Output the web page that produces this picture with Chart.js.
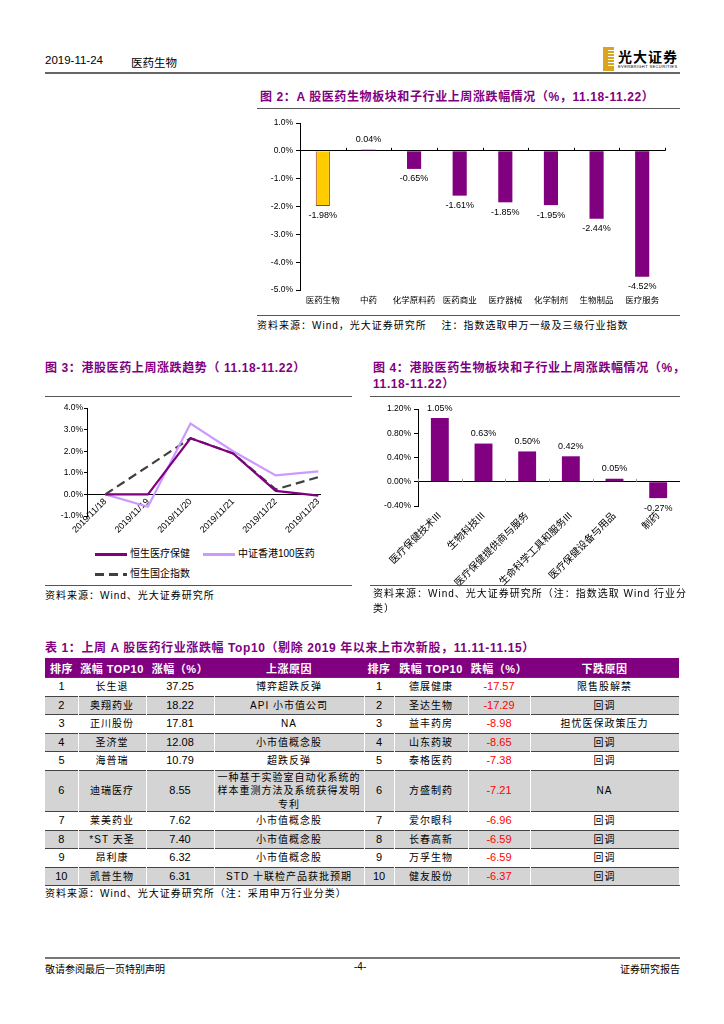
<!DOCTYPE html>
<html lang="zh-CN">
<head>
<meta charset="utf-8">
<title>医药生物</title>
<script src="https://cdn.jsdelivr.net/npm/chart.js@4.4.1/dist/chart.umd.min.js"></script>
<style>
  body { margin:0; width:724px; height:1024px; position:relative; overflow:hidden; background:#fff;
    font-family:"Liberation Sans","Noto Sans CJK SC",sans-serif; color:#000; }
  .abs { position:absolute; white-space:nowrap; }
  .rule { position:absolute; height:1px; background:#555; }
  .title { position:absolute; font-size:12px; font-weight:bold; color:#800080; white-space:nowrap; letter-spacing:0.6px; line-height:16px; }
  .src { position:absolute; font-size:10px; white-space:nowrap; letter-spacing:1px; line-height:15px; }
  canvas { position:absolute; }
  .lg-line { position:absolute; width:32px; height:3px; }
  .lg-text { position:absolute; font-size:10px; line-height:12px; white-space:nowrap; }

  #top10 { position:absolute; left:45px; top:658px; width:634px; border-collapse:collapse; table-layout:fixed; font-size:10px; }
  #top10 th { background:#800080; color:#fff; font-weight:bold; font-size:11px; height:19px; padding:0; text-align:center; letter-spacing:0.5px; }
  #top10 td { height:17.5px; padding:0; text-align:center; border-top:1px solid #444; line-height:13.5px; }
  #top10 tr.alt td { background:#d4d4d4; border-right:1px solid #fff; }
  #top10 tr:last-child td { border-bottom:1px solid #444; }
  #top10 td.num { font-size:11px; }
  #top10 td.cn { letter-spacing:1px; }
  #top10 td.neg { color:#ff0000; }
</style>
</head>
<body>

<!-- page header -->
<div class="abs" style="left:45px;top:54px;font-size:11.5px;">2019-11-24</div>
<div class="abs" style="left:131px;top:54px;font-size:11.5px;">医药生物</div>
<div class="abs" style="left:603px;top:47px;width:11px;height:24px;background:#d9a520;"></div>
<div class="abs" style="left:608px;top:50px;width:6px;height:18px;background:repeating-linear-gradient(#fff 0 1px,#d9a520 1px 3px);"></div>
<div class="abs" style="left:618px;top:46px;font-size:14px;font-weight:bold;letter-spacing:1px;">光大证券</div>
<div class="abs" style="left:618px;top:64px;font-size:4px;letter-spacing:0.4px;">EVERBRIGHT SECURITIES</div>
<div class="rule" style="left:45px;top:72px;width:635px;height:1.5px;background:#666;"></div>

<!-- figure 2 -->
<div class="title" style="left:260px;top:89px;">图 2：A 股医药生物板块和子行业上周涨跌幅情况（%，11.18-11.22）</div>
<div class="rule" style="left:257px;top:108px;width:423px;"></div>
<canvas id="chartA" width="415" height="197" style="left:255px;top:113px;"></canvas>
<div class="rule" style="left:257px;top:315px;width:423px;"></div>
<div class="src" style="left:257px;top:318px;">资料来源：Wind，光大证券研究所　 注：指数选取申万一级及三级行业指数</div>

<!-- figure 3 -->
<div class="title" style="left:45px;top:360px;">图 3：港股医药上周涨跌趋势（ 11.18-11.22）</div>
<div class="rule" style="left:45px;top:396px;width:307px;"></div>
<canvas id="chartB" width="290" height="148" style="left:40px;top:398px;"></canvas>
<div id="legendB"></div>
<div class="rule" style="left:45px;top:585px;width:307px;"></div>
<div class="src" style="left:45px;top:588px;">资料来源：Wind、光大证券研究所</div>

<!-- figure 4 -->
<div class="title" style="left:373px;top:360px;">图 4：港股医药生物板块和子行业上周涨跌幅情况（%，<br>11.18-11.22）</div>
<div class="rule" style="left:370px;top:396px;width:310px;"></div>
<canvas id="chartC" width="308" height="192" style="left:372px;top:400px;"></canvas>
<div class="rule" style="left:370px;top:585px;width:310px;"></div>
<div class="src" style="left:373px;top:586px;">资料来源：Wind、光大证券研究所（注：指数选取 Wind 行业分<br>类）</div>

<!-- table 1 -->
<div class="title" style="left:45px;top:640px;">表 1：上周 A 股医药行业涨跌幅 Top10（剔除 2019 年以来上市次新股，11.11-11.15）</div>
<table id="top10">
  <colgroup>
    <col style="width:33px"><col style="width:68px"><col style="width:68px"><col style="width:150px">
    <col style="width:30px"><col style="width:74px"><col style="width:62px"><col style="width:149px">
  </colgroup>
  <thead><tr><th>排序</th><th>涨幅 TOP10</th><th>涨幅（%）</th><th>上涨原因</th><th>排序</th><th>跌幅 TOP10</th><th>跌幅（%）</th><th>下跌原因</th></tr></thead>
  <tbody id="top10-body"></tbody>
</table>
<div class="src" style="left:45px;top:886px;">资料来源：Wind、光大证券研究所（注：采用申万行业分类）</div>

<!-- footer -->
<div class="rule" style="left:45px;top:957px;width:635px;height:1.5px;background:#777;"></div>
<div class="abs" style="left:45px;top:961px;font-size:10px;">敬请参阅最后一页特别声明</div>
<div class="abs" style="left:354px;top:961px;font-size:10px;">-4-</div>
<div class="abs" style="right:44px;top:961px;font-size:10px;">证券研究报告</div>

<script>
// Figure 2: A-share sub-sectors, weekly change (%)
const aSectors = ["医药生物", "中药", "化学原料药", "医药商业", "医疗器械", "化学制剂", "生物制品", "医疗服务"];
const aChanges = [-1.98, 0.04, -0.65, -1.61, -1.85, -1.95, -2.44, -4.52];

// Figure 3: HK indices, daily trend (%)
const hkDates = ["2019/11/18", "2019/11/19", "2019/11/20", "2019/11/21", "2019/11/22", "2019/11/23"];
const hsHealthcare = [0, 0, 2.6, 1.9, 0.16, -0.06];
const csiHk100Pharma = [0, -0.57, 3.28, 2.0, 0.88, 1.07];
const hsChinaEnterprises = [0, 1.3, 2.6, 1.9, 0.23, 0.8];

// Figure 4: HK sub-sectors, weekly change (%)
const hkSectors = ["医疗保健技术III", "生物科技III", "医疗保健提供商与服务", "生命科学工具和服务III", "医疗保健设备与用品", "制药"];
const hkChanges = [1.05, 0.63, 0.5, 0.42, 0.05, -0.27];

// Table 1: top 10 gainers / losers
const gainNames = ["长生退", "奥翔药业", "正川股份", "圣济堂", "海普瑞", "迪瑞医疗", "莱美药业", "*ST 天圣", "昂利康", "凯普生物"];
const gainPct = ["37.25", "18.22", "17.81", "12.08", "10.79", "8.55", "7.62", "7.40", "6.32", "6.31"];
const gainReasons = ["博弈超跌反弹", "API 小市值公司", "NA", "小市值概念股", "超跌反弹",
  "一种基于实验室自动化系统的样本重测方法及系统获得发明专利", "小市值概念股", "小市值概念股", "小市值概念股", "STD 十联检产品获批预期"];
const loseNames = ["德展健康", "圣达生物", "益丰药房", "山东药玻", "泰格医药", "方盛制药", "爱尔眼科", "长春高新", "万孚生物", "健友股份"];
const losePct = ["-17.57", "-17.29", "-8.98", "-8.65", "-7.38", "-7.21", "-6.96", "-6.59", "-6.59", "-6.37"];
const loseReasons = ["限售股解禁", "回调", "担忧医保政策压力", "回调", "回调", "NA", "回调", "回调", "回调", "回调"];

const PURPLE = "#800080";
const fontFamily = "'Liberation Sans', 'Noto Sans CJK SC', sans-serif";
Chart.defaults.font.family = fontFamily;
Chart.defaults.color = "#000";

// value labels above / below each bar
const valueLabels = {
  id: "valueLabels",
  afterDatasetsDraw(chart, args, opts) {
    const ctx = chart.ctx;
    const data = chart.data.datasets[0].data;
    ctx.save();
    ctx.font = `${opts.size}px ${fontFamily}`;
    ctx.fillStyle = "#000";
    ctx.textAlign = "center";
    ctx.textBaseline = "middle";
    chart.getDatasetMeta(0).data.forEach((bar, i) => {
      const v = data[i];
      const y = v >= 0 ? bar.y - opts.offset : bar.y + opts.offset;
      ctx.fillText(v.toFixed(2) + "%", bar.x, y);
    });
    ctx.restore();
  },
};

// small marks on the zero line between categories
const zeroTicks = {
  id: "zeroTicks",
  afterDatasetsDraw(chart, args, opts) {
    const ctx = chart.ctx;
    const xs = chart.scales.x;
    const y0 = chart.scales.y.getPixelForValue(0);
    ctx.save();
    ctx.strokeStyle = opts.color;
    ctx.lineWidth = 1;
    for (let i = 0; i <= xs.getLabels().length; i++) {
      const px = Math.round(xs.getPixelForValue(i - 0.5)) + 0.5;
      ctx.beginPath();
      ctx.moveTo(px, y0);
      ctx.lineTo(px, y0 - 3);
      ctx.stroke();
    }
    ctx.restore();
  },
};

const isZero = (v) => Math.abs(v) < 1e-9;

// Figure 2
new Chart(document.getElementById("chartA"), {
  type: "bar",
  data: {
    labels: aSectors,
    datasets: [{
      data: aChanges,
      backgroundColor: aSectors.map((s) => (s === "医药生物" ? "#FFCC00" : PURPLE)),
      borderColor: aSectors.map((s) => (s === "医药生物" ? "#9b3050" : PURPLE)),
      borderWidth: aSectors.map((s) => (s === "医药生物" ? 1 : 0)),
      barPercentage: 0.31,
      categoryPercentage: 1,
    }],
  },
  plugins: [valueLabels, zeroTicks],
  options: {
    responsive: false,
    animation: false,
    layout: { padding: { top: 10, right: 5, left: 0, bottom: 0 } },
    plugins: {
      legend: { display: false },
      tooltip: { enabled: false },
      valueLabels: { size: 9, offset: 10 },
      zeroTicks: { color: "#000" },
    },
    scales: {
      x: {
        grid: { display: false, drawTicks: false },
        border: { display: false },
        ticks: { font: { size: 8.5 }, padding: 6, maxRotation: 0, autoSkip: false },
        afterFit: (s) => { s.height = 20; },
      },
      y: {
        min: -5,
        max: 1,
        ticks: { stepSize: 1, font: { size: 8.5 }, padding: 3, callback: (v) => v.toFixed(1) + "%" },
        grid: { color: (c) => (isZero(c.tick.value) ? "#000" : "transparent"), tickColor: "#000", tickLength: 4 },
        border: { display: true, color: "#000" },
        afterFit: (s) => { s.width = 45; },
      },
    },
  },
});

// Figure 3
const lineSeries = [
  { name: "恒生医疗保健", values: hsHealthcare, color: PURPLE, dash: [] },
  { name: "中证香港100医药", values: csiHk100Pharma, color: "#CC99FF", dash: [] },
  { name: "恒生国企指数", values: hsChinaEnterprises, color: "#404040", dash: [9, 5] },
];

new Chart(document.getElementById("chartB"), {
  type: "line",
  data: {
    datasets: lineSeries.map((s) => ({
      label: s.name,
      data: s.values.map((v, i) => ({ x: i, y: v })),
      borderColor: s.color,
      borderDash: s.dash,
      borderWidth: 2.2,
      pointRadius: 0,
      tension: 0,
    })),
  },
  options: {
    responsive: false,
    animation: false,
    layout: { padding: { top: 10, right: 10, left: 0, bottom: 30 } },
    plugins: { legend: { display: false }, tooltip: { enabled: false } },
    scales: {
      x: {
        type: "linear",
        position: { y: 0 },
        min: -0.43,
        max: 5.04,
        afterBuildTicks: (s) => { s.ticks = hkDates.map((d, i) => ({ value: i })); },
        ticks: { font: { size: 9 }, minRotation: 45, maxRotation: 45, padding: 2, autoSkip: false,
          callback: (v) => hkDates[v] },
        grid: { display: false, drawTicks: false },
        border: { display: true, color: "#000" },
        afterFit: (s) => { s.height = 0; },
      },
      y: {
        min: -1,
        max: 4,
        ticks: { stepSize: 0.5, font: { size: 8.5 }, padding: 1, callback: (v) => v.toFixed(1) + "%" },
        grid: { color: "transparent", tickColor: "#000", tickLength: 3 },
        border: { display: true, color: "#000" },
        afterFit: (s) => { s.width = 47; },
      },
    },
  },
});

// legend for figure 3, built from the series list
const legendSlots = [[95, 554], [203, 554], [95, 574]];
document.getElementById("legendB").innerHTML = lineSeries.map((s, i) => {
  const [lx, ly] = legendSlots[i];
  const bg = s.dash.length
    ? `repeating-linear-gradient(90deg, ${s.color} 0 ${s.dash[0]}px, transparent ${s.dash[0]}px ${s.dash[0] + s.dash[1]}px)`
    : s.color;
  return `<div class="lg-line" style="left:${lx}px;top:${ly - 1}px;background:${bg};"></div>` +
    `<div class="lg-text" style="left:${lx + 35}px;top:${ly - 6}px;">${s.name}</div>`;
}).join("");

// Figure 4
new Chart(document.getElementById("chartC"), {
  type: "bar",
  data: {
    labels: hkSectors,
    datasets: [{ data: hkChanges, backgroundColor: PURPLE, barPercentage: 0.41, categoryPercentage: 1 }],
  },
  plugins: [valueLabels, zeroTicks],
  options: {
    responsive: false,
    animation: false,
    layout: { padding: { top: 9, right: 0, left: 0, bottom: 0 } },
    plugins: {
      legend: { display: false },
      tooltip: { enabled: false },
      valueLabels: { size: 9, offset: 10 },
      zeroTicks: { color: "#999" },
    },
    scales: {
      x: {
        grid: { display: false, drawTicks: false },
        border: { display: false },
        ticks: { font: { size: 10 }, minRotation: 45, maxRotation: 45, padding: 4, autoSkip: false },
        afterFit: (s) => { s.height = 86; },
      },
      y: {
        min: -0.4,
        max: 1.2,
        ticks: { stepSize: 0.2, font: { size: 8.5 }, padding: 3, callback: (v) => v.toFixed(2) + "%" },
        grid: { color: (c) => (isZero(c.tick.value) ? "#000" : "transparent"), tickColor: "#000", tickLength: 4 },
        border: { display: true, color: "#000" },
        afterFit: (s) => { s.width = 46; },
      },
    },
  },
});

// Table 1
document.getElementById("top10-body").innerHTML = gainNames.map((g, i) => `
  <tr class="${i % 2 ? "alt" : ""}">
    <td class="num">${i + 1}</td>
    <td class="cn">${g}</td>
    <td class="num">${gainPct[i]}</td>
    <td class="cn">${gainReasons[i]}</td>
    <td class="num">${i + 1}</td>
    <td class="cn">${loseNames[i]}</td>
    <td class="num neg">${losePct[i]}</td>
    <td class="cn">${loseReasons[i]}</td>
  </tr>`).join("");
</script>
</body>
</html>
